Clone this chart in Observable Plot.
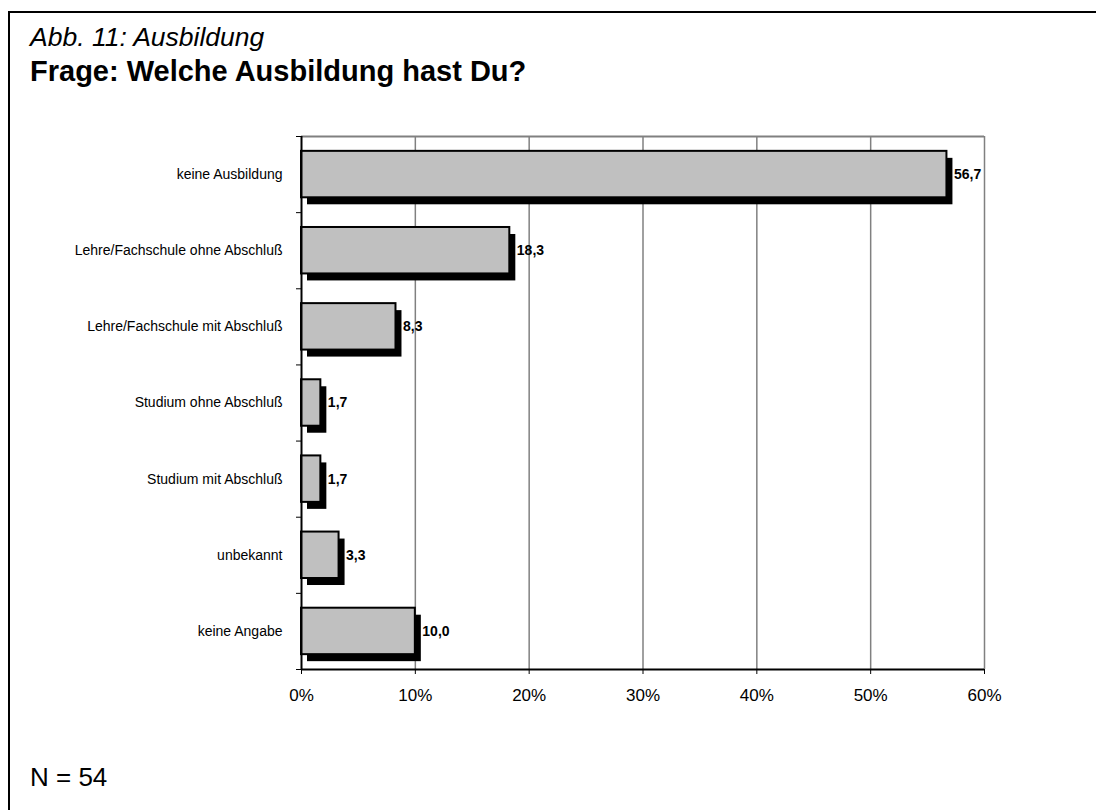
<!DOCTYPE html>
<html>
<head>
<meta charset="utf-8">
<script src="https://cdn.jsdelivr.net/npm/d3@7"></script>
<script src="https://cdn.jsdelivr.net/npm/@observablehq/plot@0.6"></script>
<style>
  html, body { margin: 0; padding: 0; background: #fff; }
  #page { position: relative; width: 1096px; height: 810px; overflow: hidden; font-family: "Liberation Sans", Arial, sans-serif; }
  #frame { position: absolute; left: 8px; top: 11px; width: 1200px; height: 900px; border-left: 2px solid #000; border-top: 2px solid #000; box-sizing: border-box; }
  .t { position: absolute; left: 30px; line-height: 1; white-space: nowrap; color: #000; }
  #t1 { top: 23.5px; font-size: 26.5px; font-style: italic; }
  #t2 { top: 56.5px; font-size: 29px; font-weight: bold; }
  #cap { top: 764px; font-size: 26px; }
  #chart { position: absolute; left: 0; top: 0; }
</style>
</head>
<body>
<div id="page">
  <div id="frame"></div>
  <div class="t" id="t1">Abb. 11: Ausbildung</div>
  <div class="t" id="t2">Frage: Welche Ausbildung hast Du?</div>
  <div id="chart"></div>
  <div class="t" id="cap">N = 54</div>
</div>
<script>
const categories = [
  "keine Ausbildung",
  "Lehre/Fachschule ohne Abschluß",
  "Lehre/Fachschule mit Abschluß",
  "Studium ohne Abschluß",
  "Studium mit Abschluß",
  "unbekannt",
  "keine Angabe"
];
const values = [56.7, 18.3, 8.3, 1.7, 1.7, 3.3, 10.0];
const xTicks = [0, 10, 20, 30, 40, 50, 60];

const data = categories.map((c, i) => ({cat: c, value: values[i]}));

const W = 1096, H = 730;
const mTop = 136, mBottom = H - 669, mLeft = 301, mRight = W - 984;
const half = (H - mTop - mBottom) / categories.length / 2;
const font = "Liberation Sans, Arial, sans-serif";

const chart = Plot.plot({
  width: W,
  height: H,
  marginTop: mTop,
  marginBottom: mBottom,
  marginLeft: mLeft,
  marginRight: mRight,
  style: {fontFamily: font, background: "transparent", overflow: "visible"},
  x: {domain: [0, 60]},
  y: {domain: categories, paddingInner: 0.39, paddingOuter: 0.195, round: false},
  marks: [
    // gridlines
    Plot.ruleX(xTicks.slice(1), {stroke: "#808080", strokeWidth: 1.5, strokeOpacity: 1}),
    // top border of plot area
    Plot.ruleY([categories[0]], {x1: 0, x2: 60, dy: -half, stroke: "#808080", strokeWidth: 2}),
    // shadows
    Plot.barX(data, {x: "value", y: "cat", fill: "#000", dx: 6, dy: 7}),
    // bars
    Plot.barX(data, {x: "value", y: "cat", fill: "#c0c0c0", stroke: "#000", strokeWidth: 2}),
    // value labels
    Plot.text(data, {x: "value", y: "cat", text: d => d.value.toFixed(1).replace(".", ","),
      textAnchor: "start", dx: 7, fontWeight: "bold", fontSize: 14, fill: "#000"}),
    // axes lines
    Plot.ruleX([0], {stroke: "#000", strokeWidth: 2}),
    Plot.ruleY([categories[categories.length - 1]], {x1: 0, x2: 60, dy: half, stroke: "#000", strokeWidth: 2}),
    // y category labels
    Plot.axisY({tickSize: 0, tickPadding: 19, fontSize: 14, label: null, fill: "#000"}),
    // y boundary ticks
    Plot.axisY({tickSize: 5, text: null, label: null, dy: half, stroke: "#000"}),
    Plot.axisY([categories[0]], {tickSize: 5, text: null, label: null, dy: -half, stroke: "#000"}),
    // x axis
    Plot.axisX({ticks: xTicks, tickFormat: d => d + "%", tickSize: 5, tickPadding: 14, fontSize: 17, label: null, stroke: "#000", fill: "#000"})
  ]
});
document.getElementById("chart").appendChild(chart);
</script>
</body>
</html>
